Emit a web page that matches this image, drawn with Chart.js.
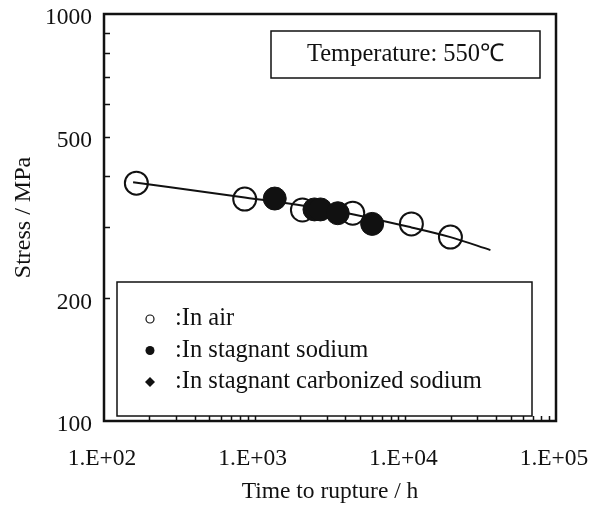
<!DOCTYPE html>
<html>
<head>
<meta charset="utf-8">
<script src="https://cdn.jsdelivr.net/npm/chart.js@4.4.0/dist/chart.umd.min.js"></script>
<style>
html, body { margin: 0; padding: 0; background: #fff; }
</style>
</head>
<body>
<canvas id="myChart" width="601" height="507"></canvas>
<script>
// data (log-log creep rupture plot)
const airTime = [164, 859, 2075, 4477, 10970, 19920];
const airStress = [384, 351, 330, 324, 305, 283];

const sodiumTime = [1359, 2494, 2733, 3560, 6023];
const sodiumStress = [352, 331, 331, 324, 305];

const carbTime = [];
const carbStress = [];

// fitted curve
const fitTime = [156, 859, 3184, 10970, 19920, 36700];
const fitStress = [386, 354, 330, 299, 283, 263];

const xTicks = [100, 1000, 10000, 100000];
const yTicks = [100, 200, 500, 1000];

const seriesLabels = [':In air', ':In stagnant sodium', ':In stagnant carbonized sodium'];
const tempLabel = 'Temperature: 550\u2103';

const ink = '#111';
const serif = "'Liberation Serif', 'Times New Roman', serif";

function pts(xs, ys) {
    return xs.map((x, i) => ({ x: x, y: ys[i] }));
}

// inward minor ticks, frame, text box and legend box
const decor = {
    id: 'decor',
    afterDraw(chart) {
        const { ctx, chartArea: a, scales: { x, y } } = chart;
        ctx.save();
        ctx.strokeStyle = ink;
        ctx.fillStyle = ink;

        // ticks
        ctx.lineWidth = 1.5;
        ctx.beginPath();
        for (let d = 100; d < 100000; d *= 10) {
            for (let m = 1; m <= 10; m++) {
                const v = d * m;
                if (v <= 100 || v >= 100000) continue;
                const px = Math.round(x.getPixelForValue(v)) + 0.5;
                ctx.moveTo(px, a.bottom);
                ctx.lineTo(px, a.bottom - 5);
            }
        }
        for (let d = 100; d < 1000; d *= 10) {
            for (let m = 2; m <= 9; m++) {
                const py = Math.round(y.getPixelForValue(d * m)) + 0.5;
                ctx.moveTo(a.left, py);
                ctx.lineTo(a.left + 6, py);
            }
        }
        ctx.stroke();

        // plot frame
        ctx.lineWidth = 2.5;
        ctx.strokeRect(a.left, a.top, a.right - a.left, a.bottom - a.top);

        // temperature box
        ctx.lineWidth = 1.5;
        ctx.strokeRect(271, 31, 269, 47);
        ctx.font = '24.5px ' + serif;
        ctx.textAlign = 'center';
        ctx.textBaseline = 'middle';
        ctx.fillText(tempLabel, 405.5, 55);

        // legend box
        ctx.strokeRect(117, 282, 415, 134);
        ctx.textAlign = 'left';
        const rows = [319, 350.5, 382];
        seriesLabels.forEach((lab, i) => {
            const cy = rows[i];
            ctx.lineWidth = 1.2;
            ctx.beginPath();
            if (i === 0) {
                ctx.arc(150, cy, 4, 0, Math.PI * 2);
                ctx.stroke();
            } else if (i === 1) {
                ctx.arc(150, cy, 4.5, 0, Math.PI * 2);
                ctx.fill();
            } else {
                ctx.moveTo(150, cy - 5);
                ctx.lineTo(155, cy);
                ctx.lineTo(150, cy + 5);
                ctx.lineTo(145, cy);
                ctx.closePath();
                ctx.fill();
            }
            ctx.fillText(lab, 175, cy);
        });
        ctx.restore();
    }
};

const ctx = document.getElementById('myChart');

new Chart(ctx, {
    type: 'scatter',
    data: {
        datasets: [
            {
                label: seriesLabels[1],
                data: pts(sodiumTime, sodiumStress),
                pointRadius: 11.5,
                pointBackgroundColor: ink,
                pointBorderColor: ink,
                pointBorderWidth: 1,
                order: 1
            },
            {
                label: seriesLabels[2],
                data: pts(carbTime, carbStress),
                pointStyle: 'rectRot',
                pointRadius: 8,
                pointBackgroundColor: ink,
                pointBorderColor: ink,
                order: 0
            },
            {
                label: seriesLabels[0],
                data: pts(airTime, airStress),
                pointRadius: 11.5,
                pointBackgroundColor: 'rgba(0,0,0,0)',
                pointBorderColor: ink,
                pointBorderWidth: 2,
                order: 2
            },
            {
                label: 'fit',
                type: 'line',
                data: pts(fitTime, fitStress),
                showLine: true,
                pointRadius: 0,
                borderColor: ink,
                borderWidth: 2,
                cubicInterpolationMode: 'monotone',
                fill: false,
                order: 3
            }
        ]
    },
    options: {
        responsive: false,
        animation: false,
        layout: { padding: { top: 14, right: 45, bottom: 0, left: 0 } },
        plugins: {
            legend: { display: false },
            tooltip: { enabled: false }
        },
        scales: {
            x: {
                type: 'logarithmic',
                position: 'bottom',
                min: 100,
                max: 100000,
                grid: { display: false, drawTicks: false },
                border: { display: false },
                afterBuildTicks: s => { s.ticks = xTicks.map(v => ({ value: v })); },
                afterFit: s => {
                    s.height = 86;
                    s.paddingLeft = 0;
                    s.paddingRight = 0;
                },
                ticks: {
                    color: ink,
                    font: { family: serif, size: 23.5 },
                    padding: 24,
                    labelOffset: -2,
                    maxRotation: 0,
                    autoSkip: false,
                    callback: v => '1.E+' + String(Math.round(Math.log10(v))).padStart(2, '0')
                },
                title: {
                    display: true,
                    text: 'Time to rupture / h',
                    color: ink,
                    font: { family: serif, size: 23.5 },
                    padding: { top: 0, bottom: 1 }
                }
            },
            y: {
                type: 'logarithmic',
                min: 100,
                max: 1000,
                grid: { display: false, drawTicks: false },
                border: { display: false },
                afterBuildTicks: s => { s.ticks = yTicks.map(v => ({ value: v })); },
                afterFit: s => {
                    s.width = 104;
                    s.paddingTop = 0;
                    s.paddingBottom = 0;
                },
                ticks: {
                    color: ink,
                    font: { family: serif, size: 23.5 },
                    padding: 12,
                    labelOffset: 4,
                    autoSkip: false,
                    callback: v => String(v)
                },
                title: {
                    display: true,
                    text: 'Stress / MPa',
                    color: ink,
                    font: { family: serif, size: 24 },
                    padding: { top: 9, bottom: 0 }
                }
            }
        }
    },
    plugins: [decor]
});
</script>
</body>
</html>
